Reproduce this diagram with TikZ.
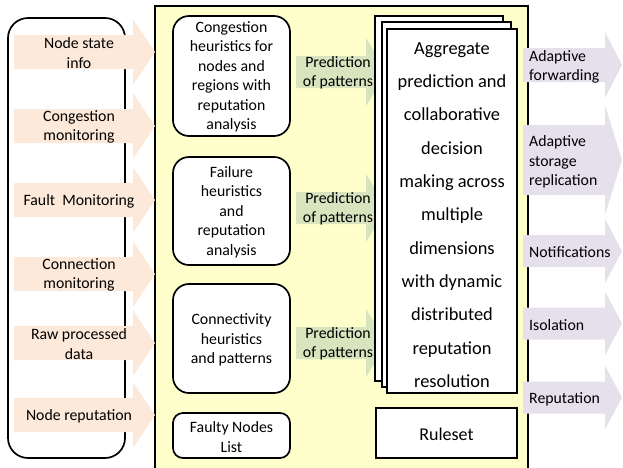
\documentclass[tikz,border=0pt]{standalone}
\usepackage{fontspec}
\setmainfont{Carlito}
\definecolor{peach}{HTML}{FDE9D9}
\definecolor{leaf}{HTML}{D7E4BD}
\definecolor{lilac}{HTML}{E5E0EC}
\definecolor{paleyellow}{HTML}{FFFFCC}
\newcommand{\blockarrow}[7]{%
  \fill[#1] (#2,#5-#6) -- (#3,#5-#6) -- (#3,#5-#7) -- (#4,#5) -- (#3,#5+#7) -- (#3,#5+#6) -- (#2,#5+#6) -- cycle;}
\begin{document}
\begin{tikzpicture}[x=1pt,y=-1pt,
  txt/.style={font=\fontsize{15.8}{19.5}\selectfont, align=center, inner sep=0pt},
  ltxt/.style={font=\fontsize{15.8}{19.5}\selectfont, align=left, inner sep=0pt, anchor=west},
  box/.style={draw=black, line width=1.7pt, fill=white},
]
\useasboundingbox (0,0) rectangle (623,467);
% left panel
\draw[box, rounded corners=20pt] (8,18) rectangle (125,458);
% yellow panel
\draw[fill=paleyellow, draw=black, line width=1.3pt] (155,6) rectangle (528,480);
% left arrows
\blockarrow{peach}{14}{133}{155}{52}{17}{33}
\blockarrow{peach}{14}{133}{155}{126}{17}{33}
\blockarrow{peach}{14}{133}{155}{200}{17}{33}
\blockarrow{peach}{14}{133}{155}{274}{17}{33}
\blockarrow{peach}{14}{133}{155}{343}{17}{33}
\blockarrow{peach}{14}{133}{155}{415}{17}{33}
\node[txt] (in1) at (79,53) {Node state\\info};
\node[txt] (in2) at (79,127) {Congestion\\monitoring};
\node[txt] (in3) at (79,201) {Fault\ \ Monitoring};
\node[txt] (in4) at (79,275) {Connection\\monitoring};
\node[txt] (in5) at (79,344) {Raw processed\\data};
\node[txt] (in6) at (79,416) {Node reputation};
% middle boxes
\draw[box, rounded corners=16pt] (173,16) rectangle (290,136);
\node[txt] (h1) at (231.5,77) {Congestion\\heuristics for\\nodes and\\regions with\\reputation\\analysis};
\draw[box, rounded corners=16pt] (173,157) rectangle (290,265);
\node[txt] (h2) at (231.5,212) {Failure\\heuristics\\and\\reputation\\analysis};
\draw[box, rounded corners=16pt] (173,284) rectangle (290,393);
\node[txt] (h3) at (231.5,340) {Connectivity\\heuristics\\and patterns};
\draw[box, rounded corners=10pt] (173,413) rectangle (290,458);
\node[txt] (h4) at (231.5,437) {Faulty Nodes\\List};
% green arrows
\blockarrow{leaf}{296}{366}{387}{72}{16}{34}
\blockarrow{leaf}{296}{366}{387}{208}{16}{34}
\blockarrow{leaf}{296}{366}{387}{343}{16}{34}
\node[txt] (p1) at (338,73) {Prediction\\of patterns};
\node[txt] (p2) at (338,209) {Prediction\\of patterns};
\node[txt] (p3) at (338,344) {Prediction\\of patterns};
% stacked documents
\draw[box] (375,16) rectangle (503,381);
\draw[box] (382,22) rectangle (511,387);
\draw[box] (387,29) rectangle (517,393);
\node[txt, font=\fontsize{18.4}{33.3}\selectfont] (agg) at (452,215) {Aggregate\\prediction and\\collaborative\\decision\\making across\\multiple\\dimensions\\with dynamic\\distributed\\reputation\\resolution};
\draw[box] (376,408) rectangle (517,458);
\node[txt, font=\fontsize{18}{22}\selectfont] (rules) at (446.5,434) {Ruleset};
% right arrows
\blockarrow{lilac}{523}{605}{622}{65}{17}{33}
\blockarrow{lilac}{523}{605}{622}{160}{35}{55}
\blockarrow{lilac}{523}{605}{622}{251}{16}{32}
\blockarrow{lilac}{523}{605}{622}{323.5}{16}{32}
\blockarrow{lilac}{523}{605}{622}{397.5}{16}{32}
\node[ltxt] (o1) at (529,67) {Adaptive\\forwarding};
\node[ltxt] (o2) at (529,162) {Adaptive\\storage\\replication};
\node[ltxt] (o3) at (529,252) {Notifications};
\node[ltxt] (o4) at (529,325) {Isolation};
\node[ltxt] (o5) at (529,399) {Reputation};
\end{tikzpicture}
\end{document}
